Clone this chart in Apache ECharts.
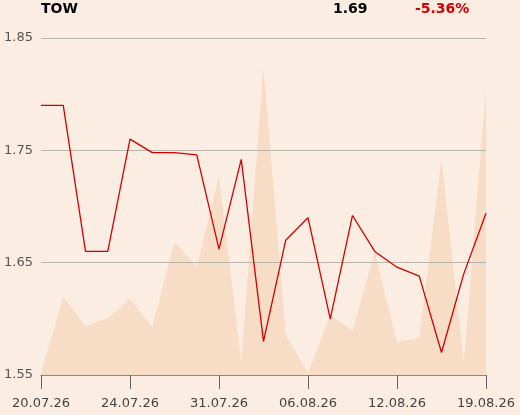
<!DOCTYPE html>
<html><head><meta charset="utf-8">
<script src="https://cdn.jsdelivr.net/npm/echarts@6/dist/echarts.min.js"></script>
<style>html,body{margin:0;padding:0;background:#FBEDE1;}#c{width:520px;height:415px;}</style>
</head><body><div id="c"></div>
<script>
const dates = ['20.07.26','21.07.26','22.07.26','23.07.26','24.07.26','27.07.26','28.07.26','30.07.26','31.07.26','03.08.26','04.08.26','05.08.26','06.08.26','07.08.26','10.08.26','11.08.26','12.08.26','13.08.26','14.08.26','18.08.26','19.08.26'];
const prices = [1.790,1.790,1.660,1.660,1.760,1.748,1.748,1.746,1.662,1.742,1.580,1.670,1.690,1.600,1.692,1.660,1.646,1.638,1.570,1.640,1.694];
const volumes = [2000,78000,49000,57000,76000,48000,133000,108000,199000,13000,308000,40000,2000,60000,44000,123000,33000,37000,216000,12000,288000];
const yTicks = [1.55,1.65,1.75,1.85];
const ticker = 'TOW', lastPrice = '1.69', change = '-5.36%';

const chart = echarts.init(document.getElementById('c'), null, {renderer:'canvas'});
chart.setOption({
  backgroundColor:'#FBEDE1',
  animation:false,
  grid:{left:41,right:34,top:38,bottom:40},
  graphic:[
    {type:'text',left:41,top:2,style:{text:ticker,font:'bold 14px "DejaVu Sans", sans-serif',fill:'#000'}},
    {type:'text',left:333,top:2,style:{text:lastPrice,font:'bold 14px "DejaVu Sans", sans-serif',fill:'#000'}},
    {type:'text',left:415,top:2,style:{text:change,font:'bold 14px "DejaVu Sans", sans-serif',fill:'#D40000'}}
  ],
  xAxis:{
    type:'category',data:dates,boundaryGap:false,
    axisLine:{lineStyle:{color:'#888',width:1}},
    axisTick:{show:true,interval:3,length:14,lineStyle:{color:'#666'}},
    axisLabel:{interval:3,color:'#444',fontSize:13,fontFamily:'DejaVu Sans',margin:22,showMaxLabel:true}
  },
  yAxis:[{
    type:'value',min:yTicks[0],max:yTicks[yTicks.length-1],interval:0.1,
    axisLine:{show:false},axisTick:{show:false},
    axisLabel:{color:'#555',fontSize:13,fontFamily:'DejaVu Sans',margin:8,formatter:v=>v.toFixed(2)},
    splitLine:{lineStyle:{color:'#B8B4AE',width:1}}
  },{
    type:'value',min:0,max:337000,show:false,splitLine:{show:false}
  }],
  series:[{
    type:'line',yAxisIndex:1,data:volumes,symbol:'none',z:-1,
    lineStyle:{width:0},areaStyle:{color:'#F7DCC6',opacity:1}
  },{
    type:'line',yAxisIndex:0,data:prices,symbol:'none',z:3,
    lineStyle:{color:'#D40000',width:1.3}
  }]
});
</script></body></html>
